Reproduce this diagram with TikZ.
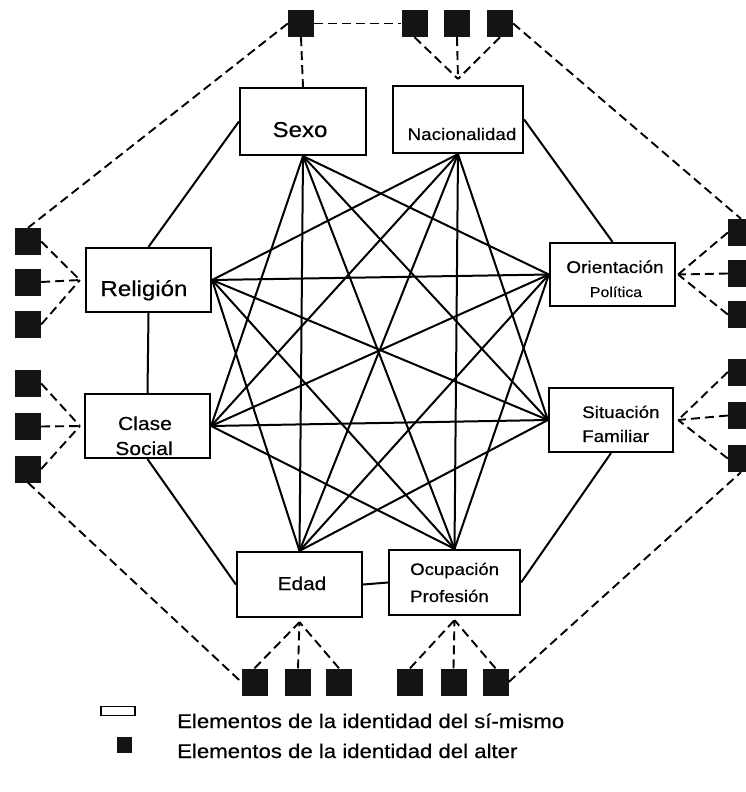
\documentclass[tikz,border=0pt]{standalone}
\usepackage{fontspec}
\setmainfont{Liberation Sans}[FakeStretch=1.12, FakeBold=0.5]
\usetikzlibrary{calc}
\newcommand{\txtsz}[1]{\fontsize{#1}{#1}\selectfont}

\begin{document}
\begin{tikzpicture}[x=1pt, y=-1pt,
	selfbox/.style={draw, line width=2.2pt, inner sep=0pt},
	alterbox/.style={fill=black!92, inner sep=0pt, minimum width=26pt, minimum height=27pt},
	link/.style={line width=2pt},
	alterlink/.style={line width=1.9pt, dash pattern=on 9pt off 5pt},
	lbl/.style={anchor=base, inner sep=0pt}]
			%%%%% START %%%%%
			
			\useasboundingbox (0,0) rectangle (745,792);
			
			% elementos del si-mismo
			\node[selfbox, minimum width=126pt, minimum height=67pt] (sexo) at (303,121.5) {};
			\node[selfbox, minimum width=130pt, minimum height=67pt] (nac) at (458,119.5) {};
			\node[selfbox, minimum width=125pt, minimum height=64pt] (relig) at (148.5,280) {};
			\node[selfbox, minimum width=125pt, minimum height=64pt] (clase) at (147.5,426) {};
			\node[selfbox, minimum width=125pt, minimum height=63pt] (orient) at (612.5,274.5) {};
			\node[selfbox, minimum width=124pt, minimum height=64pt] (situ) at (611,420) {};
			\node[selfbox, minimum width=125pt, minimum height=65pt] (edad) at (299.5,584.5) {};
			\node[selfbox, minimum width=131pt, minimum height=65pt] (ocup) at (454.5,582.5) {};
			
			\node[lbl, font=\txtsz{21.5}] (sexo-lbl) at (300,137) {Sexo};
			\node[lbl, font=\txtsz{16.8}] (nac-lbl) at (462,140) {Nacionalidad};
			\node[lbl, font=\txtsz{21.5}] (relig-lbl) at (144,296) {Religión};
			\node[lbl, font=\txtsz{18.8}] (clase-lbl) at (145,430) {Clase};
			\node[lbl, font=\txtsz{18.8}] (social-lbl) at (144,455) {Social};
			\node[lbl, font=\txtsz{17}] (orient-lbl) at (615,273) {Orientación};
			\node[lbl, font=\txtsz{14.2}] (polit-lbl) at (616,297) {Política};
			\node[lbl, anchor=base west, font=\txtsz{16.8}] (situ-lbl) at (582,418) {Situación};
			\node[lbl, anchor=base west, font=\txtsz{16.8}] (fam-lbl) at (582,442) {Familiar};
			\node[lbl, font=\txtsz{18.6}] (edad-lbl) at (302,590) {Edad};
			\node[lbl, anchor=base west, font=\txtsz{16.6}] (ocup-lbl) at (410,575) {Ocupación};
			\node[lbl, anchor=base west, font=\txtsz{16.6}] (prof-lbl) at (410,602) {Profesión};
			
			% puntos de union de la red
			\coordinate (sexo-in) at (sexo.south);
			\coordinate (nac-in) at (nac.south);
			\coordinate (relig-in) at (relig.east);
			\coordinate (clase-in) at (clase.east);
			\coordinate (orient-in) at (orient.west);
			\coordinate (situ-in) at (situ.west);
			\coordinate (edad-in) at (edad.north);
			\coordinate (ocup-in) at (ocup.north);
			
			\foreach \a/\b in {sexo/orient, sexo/situ, sexo/ocup, sexo/edad, sexo/clase,
				nac/situ, nac/ocup, nac/edad, nac/clase, nac/relig,
				orient/ocup, orient/edad, orient/clase, orient/relig,
				situ/edad, situ/clase, situ/relig,
				ocup/clase, ocup/relig, edad/relig}
				\draw[link] (\a-in) -- (\b-in);
			
			\draw[link] (sexo.west) -- (relig.north);
			\draw[link] (nac.east) -- (orient.north);
			\draw[link] (relig.south) -- (clase.north);
			\draw[link] (clase.south) -- (edad.west);
			\draw[link] (edad.east) -- (ocup.west);
			\draw[link] (ocup.east) -- (situ.south);
			
			% elementos del alter
			\node[alterbox] (top0) at (301,23.5) {};
			\foreach \x [count=\i] in {414.5,457,500}
				\node[alterbox] (top\i) at (\x,23.5) {};
			\foreach \y [count=\i] in {241.5,282,324.5,383.5,426.5,469}
				\node[alterbox] (left\i) at (28,\y) {};
			\foreach \y [count=\i] in {232.5,273.5,314.5,372,415.5,458.5}
				\node[alterbox] (right\i) at (741,\y) {};
			\foreach \x [count=\i] in {254.5,298,339,410,453.5,495.5}
				\node[alterbox] (bot\i) at (\x,682) {};
			
			\coordinate (nac-alt) at ([yshift=6pt]nac.north);
			\coordinate (relig-alt) at ([xshift=-5pt]relig.west);
			\coordinate (clase-alt) at ([xshift=-4pt]clase.west);
			\coordinate (orient-alt) at ([xshift=2pt]orient.east);
			\coordinate (situ-alt) at ([xshift=4pt]situ.east);
			\coordinate (edad-alt) at ([yshift=-4pt]edad.south);
			\coordinate (ocup-alt) at ([yshift=-4pt]ocup.south);
			
			\draw[alterlink] (top0.south) -- (sexo.north);
			\draw[alterlink] (top0.east) -- (top1.west);
			\draw[alterlink] (top0.west) -- (left1.north);
			\foreach \i in {1,2,3}
				\draw[alterlink] (top\i.south) -- (nac-alt);
			\draw[alterlink] (top3.east) -- (right1.north);
			\foreach \i in {1,2,3}
				\draw[alterlink] (left\i.east) -- (relig-alt);
			\foreach \i in {4,5,6}
				\draw[alterlink] (left\i.east) -- (clase-alt);
			\draw[alterlink] (left6.south) -- (bot1.west);
			\foreach \i in {1,2,3}
				\draw[alterlink] (bot\i.north) -- (edad-alt);
			\foreach \i in {4,5,6}
				\draw[alterlink] (bot\i.north) -- (ocup-alt);
			\draw[alterlink] (bot6.east) -- (right6.south);
			\foreach \i in {1,2,3}
				\draw[alterlink] (right\i.west) -- (orient-alt);
			\foreach \i in {4,5,6}
				\draw[alterlink] (right\i.west) -- (situ-alt);
			
			% leyenda
			\node[draw, line width=1.8pt, inner sep=0pt, minimum width=34pt, minimum height=9pt] (leg-self) at (118,711) {};
			\node[fill=black!92, inner sep=0pt, minimum width=15pt, minimum height=16pt] (leg-alter) at (124.5,745) {};
			\node[lbl, anchor=base west, font=\txtsz{19.8}] (leg-self-lbl) at (177,728) {Elementos de la identidad del sí-mismo};
			\node[lbl, anchor=base west, font=\txtsz{19.8}] (leg-alter-lbl) at (177,758) {Elementos de la identidad del alter};
			
			%%%%% END %%%%%
\end{tikzpicture}
\end{document}
